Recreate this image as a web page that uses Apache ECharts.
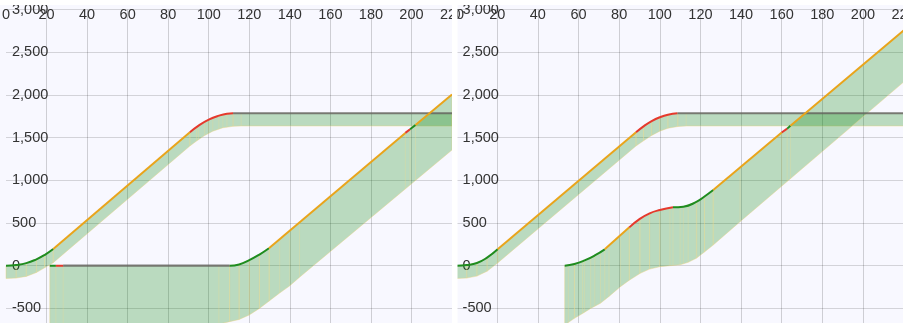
<!DOCTYPE html>
<html>
<head>
<meta charset="utf-8">
<script src="https://cdn.jsdelivr.net/npm/echarts@6/dist/echarts.min.js"></script>
<style>
html,body{margin:0;padding:0;background:#fff;}
#c{width:903px;height:323px;}
</style>
</head>
<body>
<div id="c"></div>
<script>
// ---------- axis ticks ----------
const xTicks = { min: 0, max: 220, step: 20 };
const yTicks = { min: -1000, max: 3000, step: 500 };

// ---------- LEFT PANEL ----------
// lead vehicle (time s, position m)
const leftLeadT = [0, 5, 10, 15, 19, 23.3, 90.7, 95, 100, 105, 109, 112, 220];
const leftLeadV = [0, 8, 30, 75, 125, 195, 1562, 1640, 1710, 1757, 1780, 1785, 1785];
const leftLeadPhase = [[0, 23.3, 'accel'], [23.3, 90.7, 'cruise'], [90.7, 112, 'brake'], [112, 220, 'stop']];
const leftLeadLowT = [0, 5, 10, 15, 19, 23.3, 90.7, 94, 98, 102, 107, 112, 116, 220];
const leftLeadLowV = [-150, -145, -125, -80, -25, 35, 1402, 1460, 1525, 1575, 1615, 1632, 1636, 1636];

// following vehicle
const leftFollT = [21.6, 24.6, 28.2, 110.3, 115, 120, 125, 129.7, 197, 199.3, 202, 220];
const leftFollV = [0, 0, 0, 0, 15, 65, 130, 204, 1555, 1598, 1648, 2005];
const leftFollPhase = [[21.6, 24.6, 'accel'], [24.6, 28.2, 'brake'], [28.2, 110.3, 'stop'], [110.3, 129.7, 'accel'],
  [129.7, 197, 'cruise'], [197, 199.3, 'brake'], [199.3, 202, 'accel'], [202, 220, 'cruise']];
const leftFollLowT = [21.6, 105, 110.3, 115, 120, 125, 130, 135, 140, 144.8, 220];
const leftFollLowV = [-690, -685, -655, -630, -577, -500, -410, -320, -235, -135, 1355];

// ---------- RIGHT PANEL ----------
const rightLeadT = [0, 5, 10, 15, 20.2, 88.3, 92, 96, 100, 104, 108.7, 220];
const rightLeadV = [0, 8, 32, 95, 192, 1562, 1632, 1693, 1738, 1768, 1785, 1785];
const rightLeadPhase = [[0, 20.2, 'accel'], [20.2, 88.3, 'cruise'], [88.3, 108.7, 'brake'], [108.7, 220, 'stop']];
const rightLeadLowT = [0, 5, 10, 15, 20.2, 88.3, 92, 96, 100, 104, 109, 113, 220];
const rightLeadLowV = [-150, -145, -122, -65, 32, 1402, 1462, 1525, 1575, 1610, 1630, 1636, 1636];

const rightFollT = [53.2, 58, 63, 68, 72.9, 85, 90, 95, 100, 106.5, 111.6, 118.2, 122, 126.3, 160, 162.7, 164.3, 220];
const rightFollV = [0, 20, 62, 120, 192, 449, 545, 613, 652, 684, 691, 750, 810, 886, 1560, 1605, 1640, 2755];
const rightFollPhase = [[53.2, 72.9, 'accel'], [72.9, 85, 'cruise'], [85, 106.5, 'brake'], [106.5, 126.3, 'accel'],
  [126.3, 160, 'cruise'], [160, 162.7, 'brake'], [162.7, 164.3, 'accel'], [164.3, 220, 'cruise']];
const rightFollLowT = [53.2, 55, 58, 62, 66, 70.8, 75, 80.6, 85, 90.4, 95, 100, 105, 110, 114, 118, 122, 126.3, 139.5, 220];
const rightFollLowV = [-690, -665, -616, -560, -500, -440, -360, -246, -170, -89, -40, -12, 0, 10, 40, 87, 160, 242, 515, 2150];

// ---------- styles ----------
const PHASE_STYLE = {
  accel: { color: '#1f8c1f', width: 2 },
  cruise: { color: '#e9a41b', width: 2 },
  brake: { color: '#e5392d', width: 2 },
  stop: { color: 'rgba(95,95,95,0.8)', width: 2.2 }
};
const FONT = 'Liberation Sans, Arial, sans-serif';

function interp(T, V, t) {
  if (t <= T[0]) return V[0];
  for (let i = 1; i < T.length; i++) {
    if (t <= T[i]) {
      const f = (t - T[i - 1]) / (T[i] - T[i - 1]);
      return V[i - 1] + f * (V[i] - V[i - 1]);
    }
  }
  return V[V.length - 1];
}

function bandSeries(gi, upT, upV, loT, loV) {
  return {
    type: 'custom', xAxisIndex: gi, yAxisIndex: gi, silent: true, z: 1,
    data: [[upT[0], upV[0]]],
    renderItem: function (params, api) {
      const pts = [];
      for (let i = 0; i < upT.length; i++) pts.push(api.coord([upT[i], upV[i]]));
      for (let i = loT.length - 1; i >= 0; i--) pts.push(api.coord([loT[i], loV[i]]));
      const children = [{
        type: 'polygon', shape: { points: pts },
        style: { fill: 'rgba(0,128,0,0.25)', stroke: 'rgba(238,210,120,0.4)', lineWidth: 1 }
      }];
      const ts = upT.concat(loT).filter(t => t > upT[0] + 0.5 && t < upT[upT.length - 1] - 0.5);
      ts.forEach(t => {
        const a = api.coord([t, interp(upT, upV, t)]);
        const b = api.coord([t, interp(loT, loV, t)]);
        children.push({ type: 'line', shape: { x1: a[0], y1: a[1], x2: b[0], y2: b[1] },
          style: { stroke: 'rgba(245,220,140,0.28)', lineWidth: 1 } });
      });
      return { type: 'group', children: children };
    }
  };
}

function lineSeries(gi, T, V, phases) {
  return phases.map(([a, b, kind]) => ({
    type: 'line', xAxisIndex: gi, yAxisIndex: gi, showSymbol: false, silent: true,
    smooth: 0.5, z: 3,
    data: T.map((t, i) => [t, V[i]]).filter(p => p[0] >= a - 1e-9 && p[0] <= b + 1e-9),
    lineStyle: { color: PHASE_STYLE[kind].color, width: PHASE_STYLE[kind].width }
  }));
}

function xAxis(gi) {
  return {
    type: 'value', gridIndex: gi, position: 'top', min: xTicks.min, max: xTicks.max, interval: xTicks.step,
    axisLine: { show: false }, axisTick: { show: false },
    axisLabel: { inside: true, margin: 5, verticalAlign: 'middle', color: '#333', fontSize: 14.5, fontFamily: FONT },
    splitLine: { show: true, showMinLine: false, lineStyle: { color: 'rgba(0,0,0,0.17)', width: 1 } }
  };
}
function yAxis(gi) {
  return {
    type: 'value', gridIndex: gi, min: yTicks.min, max: yTicks.max, interval: yTicks.step,
    axisLine: { show: false }, axisTick: { show: false },
    axisLabel: { inside: true, margin: 6, color: '#333', fontSize: 14.5, fontFamily: FONT,
      formatter: v => v.toLocaleString('en-US') },
    splitLine: { show: true, lineStyle: { color: 'rgba(0,0,0,0.15)', width: 1 } }
  };
}

const chart = echarts.init(document.getElementById('c'), null, { renderer: 'canvas' });
chart.setOption({
  animation: false,
  backgroundColor: '#f8f8ff',
  grid: [
    { left: 6, top: 9.5, width: 446, height: 341.6, containLabel: false, outerBoundsMode: 'none' },
    { left: 456.6, top: 9.5, width: 447, height: 341.6, containLabel: false, outerBoundsMode: 'none' }
  ],
  xAxis: [xAxis(0), xAxis(1)],
  yAxis: [yAxis(0), yAxis(1)],
  series: [
    bandSeries(0, leftLeadT, leftLeadV, leftLeadLowT, leftLeadLowV),
    bandSeries(0, leftFollT, leftFollV, leftFollLowT, leftFollLowV),
    bandSeries(1, rightLeadT, rightLeadV, rightLeadLowT, rightLeadLowV),
    bandSeries(1, rightFollT, rightFollV, rightFollLowT, rightFollLowV),
    ...lineSeries(0, leftLeadT, leftLeadV, leftLeadPhase),
    ...lineSeries(0, leftFollT, leftFollV, leftFollPhase),
    ...lineSeries(1, rightLeadT, rightLeadV, rightLeadPhase),
    ...lineSeries(1, rightFollT, rightFollV, rightFollPhase)
  ],
  graphic: [
    { type: 'rect', z: 100, silent: true, shape: { x: 0, y: 0, width: 903, height: 5 }, style: { fill: '#ffffff' } },
    { type: 'rect', z: 100, silent: true, shape: { x: 452, y: 0, width: 5.5, height: 323 }, style: { fill: '#ffffff' } }
  ]
});
</script>
</body>
</html>
